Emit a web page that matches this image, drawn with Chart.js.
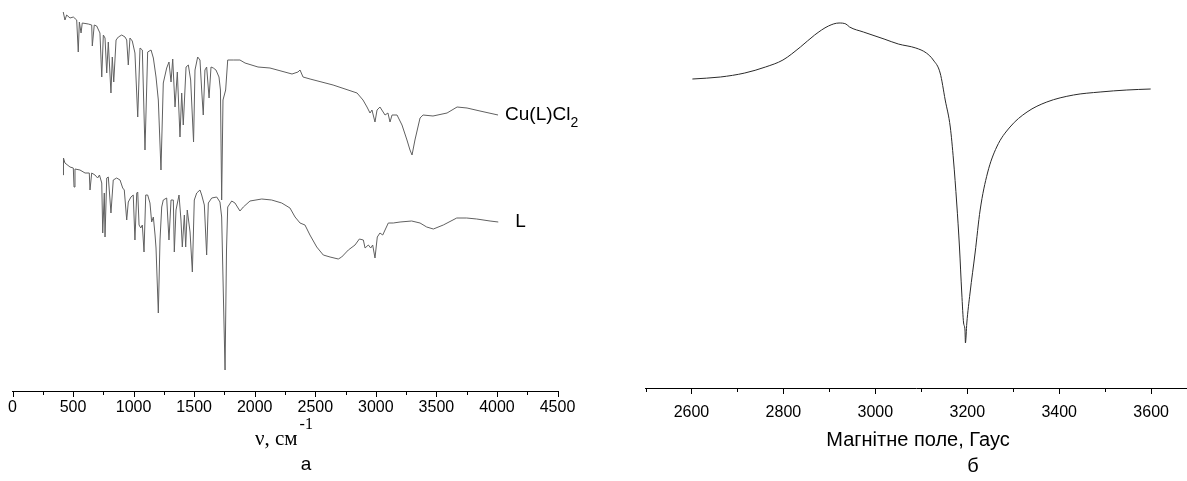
<!DOCTYPE html>
<html>
<head>
<meta charset="utf-8">
<script src="https://cdn.jsdelivr.net/npm/chart.js@4.4.1/dist/chart.umd.min.js"></script>
<style>
  html, body { margin: 0; padding: 0; background: #fff; }
  #wrap { position: relative; width: 1187px; height: 481px; }
  #ir { position: absolute; left: 0; top: 0; }
  #epr { position: absolute; left: 600px; top: 0; }
</style>
</head>
<body>
<div id="wrap">
  <canvas id="ir" width="600" height="481"></canvas>
  <canvas id="epr" width="587" height="481"></canvas>
</div>
<script>
// IR spectrum of the complex Cu(L)Cl2 (wavenumber, cm-1 / transmittance, arb. units)
const cuWn = [419,433,447,475,502,530,543,552,566,576,626,654,659,675,695,722,737,750,764,778,
  791,813,824,836,855,874,902,929,943,956,970,989,1011,1034,1053,1072,1094,1116,1144,1163,
  1185,1204,1226,1245,1273,1292,1309,1323,1342,1361,1383,1397,1410,1433,1452,1471,1495,1507,1529,1548,
  1562,1575,1589,1603,1623,1639,1658,1680,1705,1717,1727,1738,1760,1777,1823,1878,1920,2027,2126,2308,
  2357,2374,2399,2457,2647,2845,2894,2927,2952,2968,2993,3010,3034,3076,3100,3117,3134,3175,3216,3257,
  3282,3299,3323,3365,3390,3472,3588,3671,3753,3860,4009];
const cuT = [377,369,374,371,372,369,337,367,356,366,365,364,343,364,363,356,312,354,351,316,
  347,296,332,307,349,352,354,352,349,324,351,348,336,272,341,339,239,337,339,331,
  312,289,219,306,321,327,307,330,282,317,252,296,264,322,324,309,247,319,332,329,
  299,274,319,322,291,322,321,319,312,299,189,289,299,329,329,329,326,322,321,315,
  317,319,312,310,304,296,289,282,276,279,267,279,282,274,276,267,274,274,264,249,
  239,234,249,271,274,273,276,282,281,278,274];

// IR spectrum of the ligand L
const lWn = [419,421,433,475,502,508,516,557,599,634,640,654,681,703,718,737,745,758,764,778,
  791,799,813,832,860,888,910,923,943,956,978,997,1011,1026,1034,1045,1059,1072,1086,1100,
  1116,1135,1149,1163,1177,1185,1204,1218,1232,1245,1273,1292,1309,1328,1336,1350,1375,1391,1402,1419,
  1430,1443,1466,1485,1501,1521,1548,1562,1584,1603,1617,1645,1686,1713,1727,1742,1755,1767,1777,1810,
  1837,1878,1906,1961,2058,2140,2223,2291,2333,2374,2415,2456,2512,2566,2622,2690,2718,2773,2828,2864,
  2897,2911,2938,2958,2974,2993,3012,3034,3057,3076,3103,3144,3200,3296,3365,3420,3475,3557,3668,3750,
  3833,3943,4011];
const lT = [214,231,226,222,221,202,220,219,216,216,199,216,214,211,214,206,156,196,152,211,
  212,199,176,209,211,209,201,199,169,187,192,194,149,196,197,164,161,164,137,194,
  194,186,167,172,154,141,76,149,182,189,191,149,189,189,137,179,194,169,142,174,
  142,179,157,117,189,196,199,194,184,134,186,191,192,187,172,89,19,139,182,188,
  186,178,182,188,190,189,186,181,172,166,164,154,142,134,132,130,132,139,144,150,
  149,141,144,141,144,131,152,156,154,159,166,166,167,168,166,162,160,164,171,171,
  170,168,167];

// EPR spectrum (field, G / signal, arb. units)
const eprField = [2602,2663,2716,2761,2799,2837,2868,2898,2921,2936,2944,2974,3019,3050,3088,3111,3126,3141,3152,3163,
  3170,3177,3183,3188,3192,3195,3196,3199,3206,3217,3228,3244,3264,3293,3330,3373,3431,3489,3547,3599];
const eprSignal = [309,311,315,321,328,341,353,362,365,364,361,356,349,344,340,335,328,315,288,261,
  228,185,141,95,65,58,45,65,95,135,178,215,241,261,276,286,293,296,298,299];

// axis ticks (labelled every second one)
const irTicks = [0,250,500,750,1000,1250,1500,1750,2000,2250,2500,2750,3000,3250,3500,3750,4000,4250,4500];
const eprTicks = [2500,2600,2700,2800,2900,3000,3100,3200,3300,3400,3500,3600];

const sans = "'Liberation Sans', Arial, sans-serif";
const serif = "'Liberation Serif', 'Times New Roman', serif";

const toPoints = (xs, ys) => xs.map((x, i) => ({ x: x, y: ys[i] }));

// short major / minor tick marks below the axis line
const tickMarks = {
  id: 'tickMarks',
  afterDraw(chart, args, opts) {
    const s = chart.scales.x;
    const ctx = chart.ctx;
    ctx.save();
    ctx.strokeStyle = '#000';
    ctx.lineWidth = 1;
    s.ticks.forEach(t => {
      const px = Math.round(s.getPixelForValue(t.value)) + 0.5;
      const len = (t.value % opts.major === 0) ? 6 : 4;
      ctx.beginPath();
      ctx.moveTo(px, s.top);
      ctx.lineTo(px, s.top + len);
      ctx.stroke();
    });
    ctx.restore();
  }
};

const irText = {
  id: 'irText',
  afterDraw(chart) {
    const ctx = chart.ctx;
    ctx.save();
    ctx.fillStyle = '#000';
    ctx.textBaseline = 'middle';
    ctx.textAlign = 'left';
    // series names next to the end of each trace
    const cuEnd = chart.getDatasetMeta(0).data.at(-1);
    ctx.font = '19px ' + sans;
    ctx.fillText('Cu(L)Cl', cuEnd.x + 7, cuEnd.y);
    const w = ctx.measureText('Cu(L)Cl').width;
    ctx.font = '14px ' + sans;
    ctx.fillText('2', cuEnd.x + 7 + w, cuEnd.y + 8);
    const lEnd = chart.getDatasetMeta(1).data.at(-1);
    ctx.font = '19px ' + sans;
    ctx.fillText('L', lEnd.x + 17, lEnd.y);
    // axis title with superscript
    ctx.textBaseline = 'alphabetic';
    ctx.font = '21px ' + serif;
    ctx.fillText('\u03bd, см', 255, 445);
    const tw = ctx.measureText('\u03bd, см').width;
    ctx.font = '16px ' + serif;
    ctx.fillText('-1', 255 + tw + 2, 429);
    ctx.textAlign = 'center';
    ctx.textBaseline = 'middle';
    ctx.font = '19px ' + sans;
    ctx.fillText('а', 306, 465);
    ctx.restore();
  }
};

const eprText = {
  id: 'eprText',
  afterDraw(chart) {
    const ctx = chart.ctx;
    ctx.save();
    ctx.fillStyle = '#000';
    ctx.textAlign = 'center';
    ctx.textBaseline = 'middle';
    ctx.font = '20px ' + sans;
    ctx.fillText('Магнітне поле, Гаус', 318, 440);
    ctx.fillText('б', 373, 466);
    ctx.restore();
  }
};

new Chart(document.getElementById('ir'), {
  type: 'line',
  data: {
    datasets: [
      { label: 'Cu(L)Cl2', data: toPoints(cuWn, cuT), borderColor: '#606060', borderWidth: 1, pointRadius: 0, tension: 0 },
      { label: 'L', data: toPoints(lWn, lT), borderColor: '#606060', borderWidth: 1, pointRadius: 0, tension: 0 }
    ]
  },
  options: {
    responsive: false,
    animation: false,
    events: [],
    layout: { padding: { left: 12.5, right: 42.5, top: 0, bottom: 0 } },
    plugins: { legend: { display: false }, tooltip: { enabled: false }, tickMarks: { major: 500 } },
    scales: {
      x: {
        type: 'linear', min: 0, max: 4500,
        grid: { display: false, drawTicks: false },
        border: { display: true, color: '#000', width: 1 },
        ticks: {
          autoSkip: false, maxRotation: 0, padding: 7, color: '#000',
          font: { family: sans, size: 16 },
          callback: v => (v % 500 === 0 ? String(v) : '')
        },
        afterBuildTicks: s => { s.ticks = irTicks.map(v => ({ value: v })); },
        afterFit: s => { s.height = 90; }
      },
      y: { display: false, min: -2, max: 389 }
    }
  },
  plugins: [tickMarks, irText]
});

new Chart(document.getElementById('epr'), {
  type: 'line',
  data: {
    datasets: [
      { label: 'EPR', data: toPoints(eprField, eprSignal), borderColor: '#2a2a2a', borderWidth: 1, pointRadius: 0, cubicInterpolationMode: 'monotone' }
    ]
  },
  options: {
    responsive: false,
    animation: false,
    events: [],
    layout: { padding: { left: 45.5, right: 0, top: 0, bottom: 0 } },
    plugins: { legend: { display: false }, tooltip: { enabled: false }, tickMarks: { major: 200 } },
    scales: {
      x: {
        type: 'linear', min: 2500, max: 3678,
        grid: { display: false, drawTicks: false },
        border: { display: true, color: '#000', width: 1 },
        ticks: {
          autoSkip: false, maxRotation: 0, padding: 15, color: '#000',
          font: { family: sans, size: 16 },
          callback: v => (v % 200 === 0 ? String(v) : '')
        },
        afterBuildTicks: s => { s.ticks = eprTicks.map(v => ({ value: v })); },
        afterFit: s => { s.height = 93; }
      },
      y: { display: false, min: 0, max: 388 }
    }
  },
  plugins: [tickMarks, eprText]
});
</script>
</body>
</html>
